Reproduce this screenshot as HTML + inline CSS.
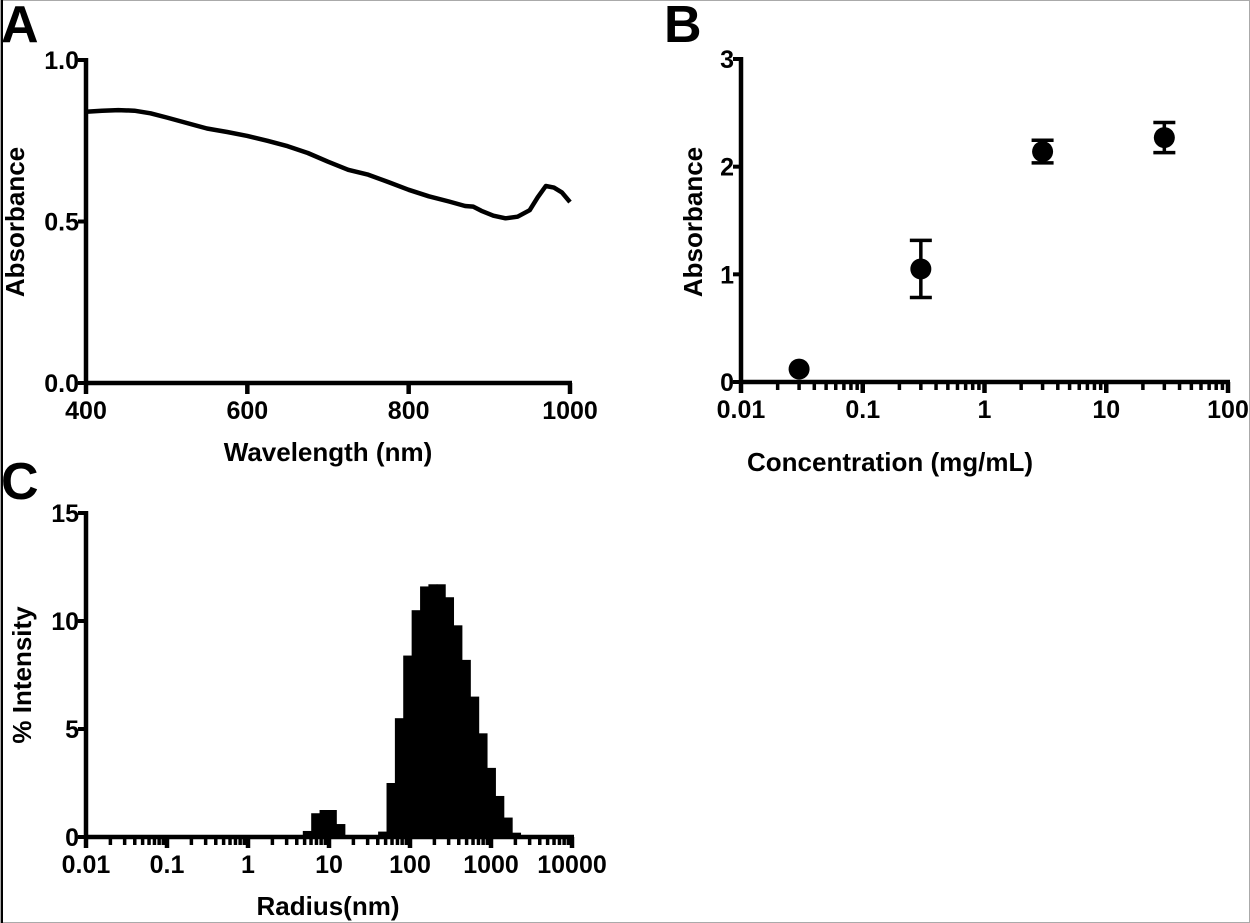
<!DOCTYPE html>
<html><head><meta charset="utf-8"><style>
html,body{margin:0;padding:0;background:#fff;}
svg{display:block;font-family:"Liberation Sans",Arial,sans-serif;font-weight:bold;}
</style></head><body>
<svg id="fig" width="1250" height="923" viewBox="0 0 1250 923" xmlns="http://www.w3.org/2000/svg">
<rect x="0.5" y="0.5" width="1249" height="922" fill="#fff" stroke="#aaa"/>
<line x1="2" y1="0" x2="2" y2="923" stroke="#000" stroke-width="2"/>
<text x="1" y="42" font-size="52">A</text>
<text x="664" y="42" font-size="52">B</text>
<text x="1" y="499" font-size="52">C</text>
<g id="pa"></g>
<g id="pb"></g>
<g id="pc"></g>
</svg>
<script>
// Panel A data
const specWavelength=[400,420,440,460,480,500,525,550,575,600,625,650,675,700,725,750,775,800,825,850,870,880,890,905,920,935,950,960,970,980,990,1000];
const specAbs=[0.84,0.843,0.845,0.843,0.835,0.822,0.805,0.788,0.777,0.765,0.75,0.733,0.712,0.685,0.66,0.645,0.622,0.598,0.578,0.562,0.548,0.546,0.533,0.518,0.51,0.515,0.535,0.575,0.61,0.605,0.59,0.56];
const aXTicks=[400,600,800,1000];
const aYTicks=[0,0.5,1.0];
const aYLabels=["0.0","0.5","1.0"];
// Panel B data
const concX=[0.03,0.3,3,30];
const concY=[0.12,1.05,2.14,2.27];
const concErr=[0,0.265,0.105,0.14];
const bXTicks=[0.01,0.1,1,10,100];
const bXLabels=["0.01","0.1","1","10","100"];
const bYTicks=[0,1,2,3];
// Panel C data
const radiusNm=[5.35,6.79,8.61,10.9,13.9,45.5,57.8,73.3,92.9,118,150,190,241,305,387,492,624,791,1004,1274,1616,2050];
const intensityPct=[0.28,1.1,1.25,1.25,0.6,0.25,2.5,5.5,8.4,10.5,11.6,11.7,11.7,11.1,9.8,8.2,6.5,4.8,3.2,1.9,0.9,0.2];
const cXTicks=[0.01,0.1,1,10,100,1000,10000];
const cXLabels=["0.01","0.1","1","10","100","1000","10000"];
const cYTicks=[0,5,10,15];

const NS="http://www.w3.org/2000/svg";
const TF=25, AF=26;
function mk(parent,tag,attrs){const e=document.createElementNS(NS,tag);for(const k in attrs)e.setAttribute(k,attrs[k]);parent.appendChild(e);return e;}
function txt(parent,x,y,s,size,anchor,extra){const t=mk(parent,'text',Object.assign({x:x,y:y,'font-size':size,'text-anchor':anchor},extra||{}));t.textContent=s;return t;}

function axes(g,x0,x1,y0,y1){
  const l1=mk(g,'line',{x1:x0,y1:y1-2,x2:x0,y2:y0+2,stroke:'#000','stroke-width':4.5});
  
  
  const l2=mk(g,'line',{x1:x0-2,y1:y0,x2:x1+2,y2:y0,stroke:'#000','stroke-width':4.5});
  
  
}
function yTicks(g,x0,ticks,labels,ys){
  ticks.forEach((v,i)=>{const y=ys(v);
    const t=mk(g,'line',{x1:x0-8,y1:y,x2:x0,y2:y,stroke:'#000','stroke-width':4});
    
    
    const l=txt(g,x0-7,y+9,labels[i],TF,'end');
    
    });
}
function logXTicks(g,y0,ticks,labels,xs){
  ticks.forEach((v,i)=>{const x=xs(v);
    const t=mk(g,'line',{x1:x,y1:y0,x2:x,y2:y0+11,stroke:'#000','stroke-width':4.5});
    
    
    const l=txt(g,x,y0+36,labels[i],TF,'middle');
    
    
    if(i<ticks.length-1){for(let m=2;m<=9;m++){const xm=xs(v*m);
      const mt=mk(g,'line',{x1:xm,y1:y0,x2:xm,y2:y0+8,stroke:'#000','stroke-width':3.5});
      
      }}
  });
}

// Panel A
(function(){
  const g=document.getElementById('pa');
  const X0=86,X1=570,Y0=383,Y1=60;
  const xs=v=>X0+(v-400)/600*(X1-X0), ys=v=>Y0-(v/1.0)*(Y0-Y1);
  axes(g,X0,X1,Y0,Y1);
  yTicks(g,X0,aYTicks,aYLabels,ys);
  aXTicks.forEach(v=>{const x=xs(v);
    const t=mk(g,'line',{x1:x,y1:Y0,x2:x,y2:Y0+11,stroke:'#000','stroke-width':4.5});
    
    
    const l=txt(g,x,Y0+36,String(v),TF,'middle');
    
    });
  const d=specWavelength.map((w,i)=>(i?'L':'M')+xs(w).toFixed(1)+','+ys(specAbs[i]).toFixed(1)).join(' ');
  const p=mk(g,'path',{d:d,fill:'none',stroke:'#000','stroke-width':4.5,'stroke-linejoin':'round'});
  
  
  const xt=txt(g,328,461,'Wavelength (nm)',AF,'middle');
  
  
  const yt=txt(g,0,0,'Absorbance',AF,'middle',{transform:'translate(24,222) rotate(-90)'});
  
  
})();

// Panel B
(function(){
  const g=document.getElementById('pb');
  const X0=741,X1=1228,Y0=382,Y1=59;
  const xs=v=>X0+(Math.log10(v)+2)/4*(X1-X0), ys=v=>Y0-v/3*(Y0-Y1);
  axes(g,X0,X1,Y0,Y1);
  yTicks(g,X0,bYTicks,bYTicks.map(String),ys);
  logXTicks(g,Y0,bXTicks,bXLabels,xs);
  concX.forEach((c,i)=>{const x=xs(c),y=ys(concY[i]);
    if(concErr[i]>0){const yt=ys(concY[i]+concErr[i]),yb=ys(concY[i]-concErr[i]);
      const e=mk(g,'path',{d:`M${x},${yt}L${x},${yb}M${x-11},${yt}L${x+11},${yt}M${x-11},${yb}L${x+11},${yb}`,stroke:'#000','stroke-width':3.5,fill:'none'});
      
      }
    const m=mk(g,'circle',{cx:x,cy:y,r:10.5,fill:'#000'});
    
    });
  const xt=txt(g,890,471,'Concentration (mg/mL)',AF,'middle');
  
  
  const yt=txt(g,0,0,'Absorbance',AF,'middle',{transform:'translate(702,222) rotate(-90)'});
  
  
})();

// Panel C
(function(){
  const g=document.getElementById('pc');
  const X0=86,X1=572,Y0=837,Y1=513;
  const xs=v=>X0+(Math.log10(v)+2)/6*(X1-X0), ys=v=>Y0-v/15*(Y0-Y1);
  const hw=Math.pow(10,0.0517);
  radiusNm.forEach((r,i)=>{const xa=xs(r/hw),xb=xs(r*hw),y=ys(intensityPct[i]);
    const b=mk(g,'rect',{x:xa,y:y,width:xb-xa+0.6,height:Y0-y,fill:'#000'});
    
    });
  axes(g,X0,X1,Y0,Y1);
  yTicks(g,X0,cYTicks,cYTicks.map(String),ys);
  logXTicks(g,Y0,cXTicks,cXLabels,xs);
  const xt=txt(g,328,915,'Radius(nm)',AF,'middle');
  
  
  const yt=txt(g,0,0,'% Intensity',AF,'middle',{transform:'translate(31,675) rotate(-90)'});
  
  
})();
</script>
</body></html>
